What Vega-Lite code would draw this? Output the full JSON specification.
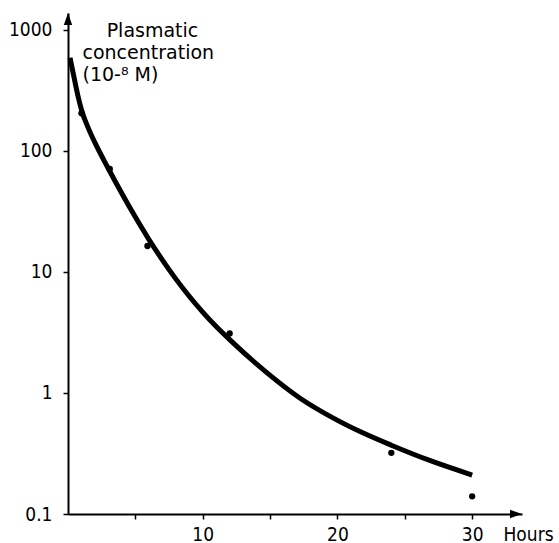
{
  "$schema": "https://vega.github.io/schema/vega-lite/v6.json",
  "width": 454,
  "height": 501,
  "autosize": {"type": "none"},
  "padding": {"left": 68, "top": 13, "right": 37, "bottom": 29},
  "background": "white",
  "config": {
    "view": {"stroke": null},
    "font": "Liberation Sans Narrow, DejaVu Sans Condensed, Liberation Sans, sans-serif",
    "axis": {
      "grid": false,
      "domainColor": "black",
      "domainWidth": 2,
      "tickColor": "black",
      "tickWidth": 1.5,
      "tickSize": 5,
      "labelColor": "black",
      "titleColor": "black",
      "labelFont": "Liberation Sans Narrow, DejaVu Sans Condensed, Liberation Sans, sans-serif",
      "titleFont": "DejaVu Sans, sans-serif",
      "labelFontSize": 19,
      "titleFontWeight": "normal"
    }
  },
  "datasets": {
    "curve": [
      {"hours": 0.15, "conc": 590},
      {"hours": 0.5, "conc": 380},
      {"hours": 0.75, "conc": 282},
      {"hours": 1, "conc": 219},
      {"hours": 1.5, "conc": 155},
      {"hours": 2, "conc": 117},
      {"hours": 3, "conc": 71.3},
      {"hours": 4, "conc": 44.5},
      {"hours": 5, "conc": 28.4},
      {"hours": 6, "conc": 18.6},
      {"hours": 7, "conc": 12.6},
      {"hours": 8, "conc": 8.77},
      {"hours": 9, "conc": 6.3},
      {"hours": 10, "conc": 4.66},
      {"hours": 11, "conc": 3.54},
      {"hours": 12, "conc": 2.76},
      {"hours": 14.8, "conc": 1.46},
      {"hours": 17.2, "conc": 0.91},
      {"hours": 19.7, "conc": 0.62},
      {"hours": 21.8, "conc": 0.473},
      {"hours": 24, "conc": 0.37},
      {"hours": 27, "conc": 0.273},
      {"hours": 30, "conc": 0.21}
    ],
    "obs": [
      {"hours": 1, "conc": 205},
      {"hours": 3.1, "conc": 71},
      {"hours": 5.9, "conc": 16.4},
      {"hours": 12, "conc": 3.1},
      {"hours": 24, "conc": 0.32},
      {"hours": 30, "conc": 0.14}
    ],
    "arrows": [
      {"hours": 0, "conc": 1380, "dir": "up"},
      {"hours": 33.7, "conc": 0.1, "dir": "right"}
    ]
  },
  "layer": [
    {
      "data": {"name": "curve"},
      "mark": {"type": "line", "color": "black", "strokeWidth": 5, "interpolate": "monotone", "strokeCap": "butt"},
      "encoding": {
        "x": {
          "field": "hours", "type": "quantitative",
          "scale": {"domain": [0, 33.7], "nice": false, "zero": false},
          "axis": {
            "values": [5, 10, 15, 20, 25, 30],
            "labelExpr": "datum.value % 10 == 0 ? datum.label : ''",
            "labelPadding": 6,
            "title": "Hours",
            "titleFontSize": 19,
            "titleFont": "Liberation Sans Narrow, DejaVu Sans Condensed, Liberation Sans, sans-serif",
            "titleX": 435,
            "titleY": 11,
            "titleAlign": "left",
            "titleBaseline": "top",
            "titleAnchor": "start"
          }
        },
        "y": {
          "field": "conc", "type": "quantitative",
          "scale": {"type": "log", "domain": [0.1, 1380], "nice": false},
          "axis": {
            "values": [0.1, 1, 10, 100, 1000],
            "format": "~g",
            "labelPadding": 11,
            "title": ["\u200b\u00a0\u00a0\u00a0\u00a0Plasmatic", "concentration", "(10-\u2078 M)"],
            "titleFontSize": 19,
            "titleLineHeight": 22,
            "titleAngle": 0,
            "titleAlign": "left",
            "titleBaseline": "alphabetic",
            "titleX": 14,
            "titleY": 23
          }
        }
      }
    },
    {
      "data": {"name": "obs"},
      "mark": {"type": "point", "filled": true, "color": "black", "opacity": 1, "size": 40, "shape": "circle"},
      "encoding": {
        "x": {"field": "hours", "type": "quantitative"},
        "y": {"field": "conc", "type": "quantitative"}
      }
    },
    {
      "data": {"name": "arrows"},
      "mark": {"type": "point", "filled": true, "color": "black", "opacity": 1, "size": 144},
      "encoding": {
        "x": {"field": "hours", "type": "quantitative"},
        "y": {"field": "conc", "type": "quantitative"},
        "shape": {
          "field": "dir", "type": "nominal",
          "scale": {"domain": ["up", "right"], "range": ["M 0 0 L -0.7 2 L 0.7 2 Z", "M 0 0 L -2 -0.7 L -2 0.7 Z"]},
          "legend": null
        }
      }
    }
  ]
}
